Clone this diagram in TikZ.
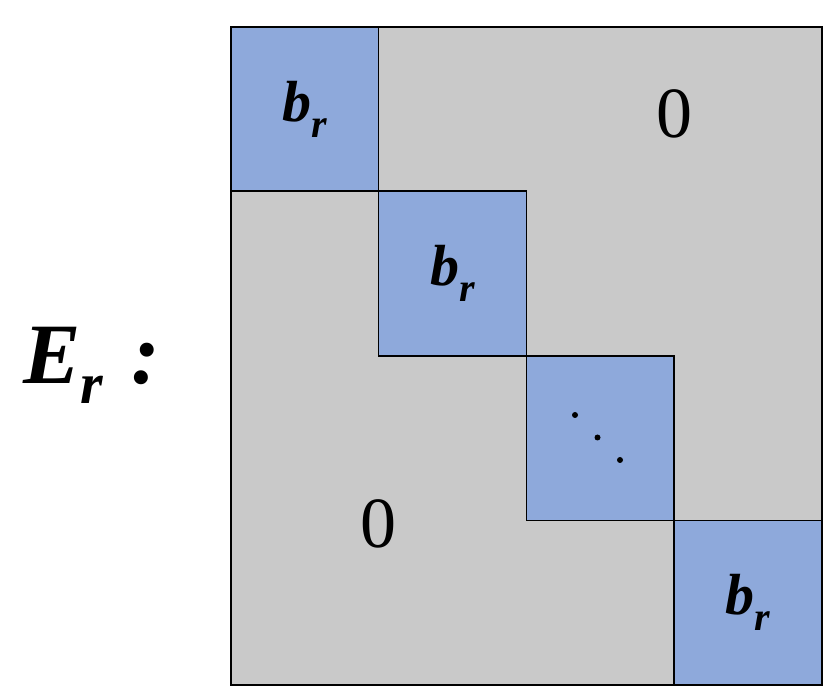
\documentclass[tikz,border=0pt]{standalone}
\usepackage{fontspec}
\setmainfont{Liberation Serif}
\definecolor{blockblue}{HTML}{8EA9DB}
\definecolor{zerogray}{HTML}{C9C9C9}
\newcommand{\lowsub}[2]{\raisebox{-#1}{\fontsize{#2}{#2}\selectfont\bfseries\itshape r}}
\begin{document}
\begin{tikzpicture}[x=1pt,y=-1pt]
  \tikzstyle{every node}=[inner sep=0pt]
  \tikzstyle{blk}=[draw,line width=1.6pt,fill=blockblue,minimum width=147.75pt,minimum height=164.5pt,anchor=north west]
  \tikzstyle{lbl}=[font=\fontsize{58}{60}\selectfont\bfseries\itshape]
\useasboundingbox (0,0) rectangle (833,700);
\node[draw,line width=1.6pt,fill=zerogray,minimum width=591pt,minimum height=658pt,anchor=north west] (mat) at (230,26) {};
\node[blk] (b1) at (230,26) {};
\node[blk] (b2) at (377.75,190.5) {};
\node[blk] (b3) at (525.5,355) {};
\node[blk] (b4) at (673.25,519.5) {};
\node[lbl] at (b1) {b\lowsub{16pt}{40}};
\node[lbl] at (b2) {b\lowsub{16pt}{40}};
\node[lbl] at (b4) {b\lowsub{16pt}{40}};
\foreach \i in {0,1,2}
  \fill (575+\i*22.5,415+\i*22.5) circle (3pt);
\node[font=\fontsize{72}{74}\selectfont] (z1) at (674,114) {0};
\node[font=\fontsize{72}{74}\selectfont] (z2) at (378,524) {0};
\node[font=\fontsize{86}{88}\selectfont\bfseries\itshape] (er) at (92,365) {E\lowsub{20pt}{58}\,\,:};
\end{tikzpicture}
\end{document}
